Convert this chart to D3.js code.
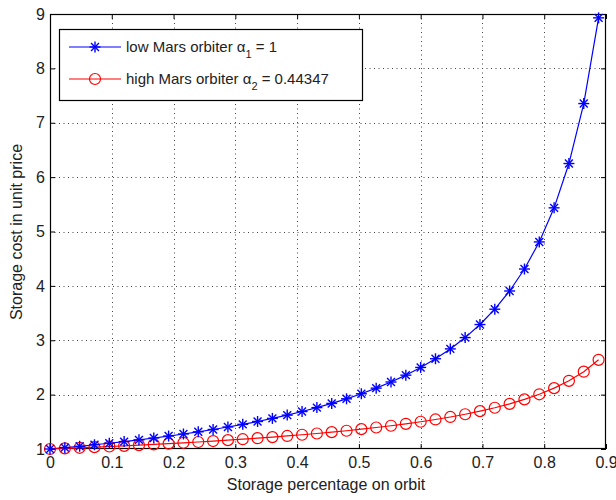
<!DOCTYPE html>
<html><head><meta charset="utf-8">
<script src="https://cdn.jsdelivr.net/npm/d3@7"></script>
<style>body{margin:0;background:#fff}svg{font-family:"Liberation Sans",Arial,sans-serif}</style>
</head><body><svg id="c" width="616" height="500"></svg>
<script>
const xValues = [0,0.024,0.048,0.072,0.096,0.120,0.144,0.168,0.192,0.216,0.240,0.264,0.288,0.312,0.336,0.360,0.384,0.408,0.432,0.456,0.480,0.504,0.528,0.552,0.576,0.600,0.624,0.648,0.672,0.696,0.720,0.744,0.768,0.792,0.816,0.840,0.864,0.888];
const lowOrbit = [1.000,1.025,1.050,1.078,1.106,1.136,1.168,1.202,1.238,1.276,1.316,1.359,1.405,1.453,1.506,1.563,1.623,1.689,1.761,1.838,1.923,2.016,2.119,2.232,2.358,2.500,2.660,2.841,3.049,3.289,3.571,3.906,4.310,4.808,5.435,6.250,7.353,8.929];
const highOrbit = [1.000,1.011,1.022,1.034,1.046,1.058,1.071,1.085,1.099,1.114,1.129,1.146,1.163,1.180,1.199,1.219,1.240,1.262,1.285,1.310,1.336,1.365,1.395,1.428,1.463,1.501,1.543,1.589,1.639,1.696,1.759,1.830,1.912,2.006,2.119,2.254,2.422,2.640];
const xTicks = [0,0.1,0.2,0.3,0.4,0.5,0.6,0.7,0.8,0.9];
const yTicks = [1,2,3,4,5,6,7,8,9];

const svg = d3.select("#c");
const L=50, R=606, T=14, B=449;
const x = d3.scaleLinear().domain([0,0.9]).range([L,R]);
const y = d3.scaleLinear().domain([1,9]).range([B,T]);

// grid
const grid = svg.append("g").attr("stroke","#444").attr("stroke-width",1).attr("stroke-dasharray","1,3.5");
grid.selectAll(".gx").data(xTicks.slice(1,-1)).enter().append("line")
  .attr("x1",d=>Math.round(x(d))+0.5).attr("x2",d=>Math.round(x(d))+0.5).attr("y1",T).attr("y2",B);
grid.selectAll(".gy").data(yTicks.slice(1,-1)).enter().append("line")
  .attr("y1",d=>Math.round(y(d))+0.5).attr("y2",d=>Math.round(y(d))+0.5).attr("x1",L).attr("x2",R);

// axes
const fs = "16px";
const xAxis = d3.axisBottom(x).tickValues(xTicks).tickSize(-5).tickPadding(8).tickFormat(d3.format("~g"));
svg.append("g").attr("transform",`translate(0,${B})`).call(xAxis);
const xTop = d3.axisTop(x).tickValues(xTicks).tickSize(-5).tickFormat("");
svg.append("g").attr("transform",`translate(0,${T})`).call(xTop);
const yAxis = d3.axisLeft(y).tickValues(yTicks).tickSize(-5).tickPadding(5).tickFormat(d3.format("d"));
svg.append("g").attr("transform",`translate(${L},0)`).call(yAxis);
const yRight = d3.axisRight(y).tickValues(yTicks).tickSize(-5).tickFormat("");
svg.append("g").attr("transform",`translate(${R},0)`).call(yRight);
svg.selectAll(".domain").remove();
svg.selectAll(".tick line").attr("stroke","#000");
svg.selectAll(".tick text").attr("font-size",fs).attr("font-family","Liberation Sans, Arial, sans-serif").attr("fill","#222");
svg.append("rect").attr("x",L+0.5).attr("y",T+0.5).attr("width",R-L-1).attr("height",B-T-1)
  .attr("fill","none").attr("stroke","#000").attr("stroke-width",1.2);

// series
const line = d3.line().x((d,i)=>x(xValues[i])).y(d=>y(d));
svg.append("path").datum(lowOrbit).attr("d",line).attr("fill","none").attr("stroke","#0000ff").attr("stroke-width",1.2);
svg.append("path").datum(highOrbit).attr("d",line).attr("fill","none").attr("stroke","#ff0000").attr("stroke-width",1.2);

function star(g,cx,cy,r,color){
  const s = g.append("g").attr("stroke",color).attr("stroke-width",1.4).attr("fill","none");
  s.append("line").attr("x1",cx-r).attr("x2",cx+r).attr("y1",cy).attr("y2",cy);
  s.append("line").attr("x1",cx).attr("x2",cx).attr("y1",cy-r).attr("y2",cy+r);
  const k=r*0.72;
  s.append("line").attr("x1",cx-k).attr("x2",cx+k).attr("y1",cy-k).attr("y2",cy+k);
  s.append("line").attr("x1",cx-k).attr("x2",cx+k).attr("y1",cy+k).attr("y2",cy-k);
}
const mk = svg.append("g");
highOrbit.forEach((v,i)=>{
  mk.append("circle").attr("cx",x(xValues[i])).attr("cy",y(v)).attr("r",5.5)
    .attr("fill","none").attr("stroke","#ff0000").attr("stroke-width",1.2);
});
lowOrbit.forEach((v,i)=>star(mk,x(xValues[i]),y(v),5.5,"#0000ff"));

// labels
svg.append("text").attr("x",326).attr("y",490).attr("text-anchor","middle")
  .attr("font-size","16px").attr("fill","#222").text("Storage percentage on orbit");
svg.append("text").attr("transform",`translate(22,232) rotate(-90)`).attr("text-anchor","middle")
  .attr("font-size","16px").attr("fill","#222").text("Storage cost in unit price");

// legend
const lg = svg.append("g");
lg.append("rect").attr("x",59.5).attr("y",29.5).attr("width",303).attr("height",71)
  .attr("fill","#fff").attr("stroke","#000").attr("stroke-width",1.2);
const rows = [{c:"#0000ff",y:47,pre:"low Mars orbiter ",sub:"1",post:" = 1",m:"star"},
              {c:"#ff0000",y:79,pre:"high Mars orbiter ",sub:"2",post:" = 0.44347",m:"circle"}];
rows.forEach(r=>{
  lg.append("line").attr("x1",69).attr("x2",121).attr("y1",r.y).attr("y2",r.y).attr("stroke",r.c).attr("stroke-width",1.2);
  if(r.m==="star") star(lg,95,r.y,5.5,r.c);
  else lg.append("circle").attr("cx",95).attr("cy",r.y).attr("r",5.5).attr("fill","none").attr("stroke",r.c).attr("stroke-width",1.2);
  const t = lg.append("text").attr("x",126).attr("y",r.y+5).attr("font-size","15px").attr("fill","#222");
  t.append("tspan").text(r.pre+"\u03B1");
  t.append("tspan").attr("dy",6).attr("font-size","11px").text(r.sub);
  t.append("tspan").attr("dy",-6).text(r.post);
});
</script></body></html>
